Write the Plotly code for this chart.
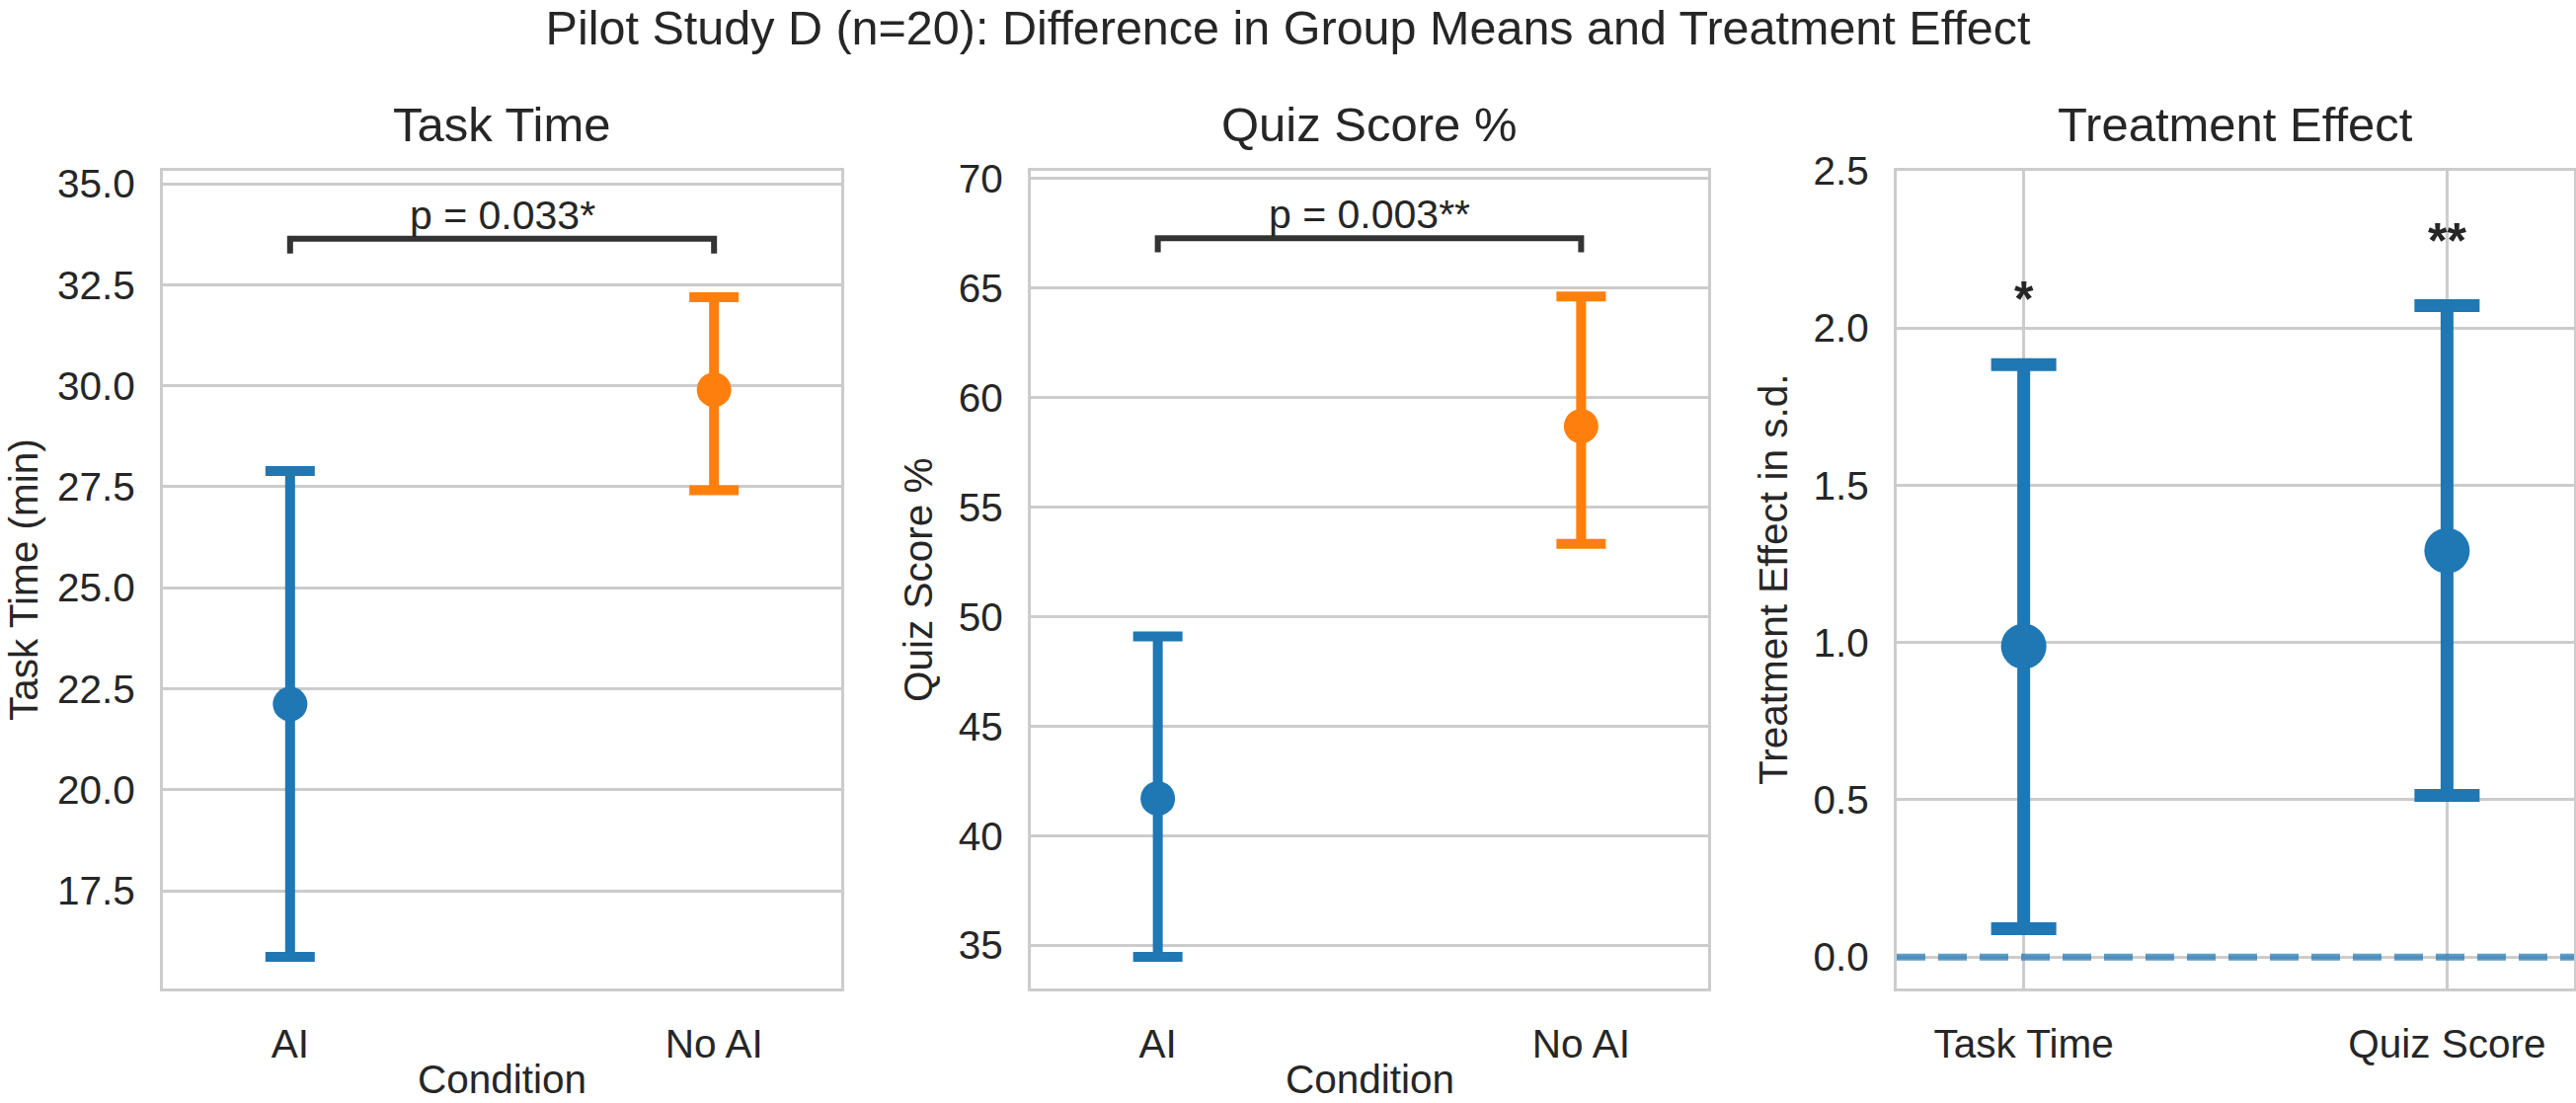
import plotly.graph_objects as go

# ---------------- data ----------------
conditions = ["AI", "No AI"]
time_mean = [22.12, 29.90]
time_lo = [15.86, 27.41]
time_hi = [27.89, 32.19]

quiz_mean = [41.70, 58.70]
quiz_lo = [34.47, 53.33]
quiz_hi = [49.10, 64.62]

effect_labels = ["Task Time", "Quiz Score"]
effect_mean = [0.988, 1.292]
effect_lo = [0.090, 0.514]
effect_hi = [1.884, 2.071]
effect_stars = ["*", "**"]

p_texts = ["p = 0.033*", "p = 0.003**"]
bracket_top = [33.64, 67.28]
bracket_tip = [33.27, 66.64]
null_effect = 0.0

time_ticks = [17.5, 20.0, 22.5, 25.0, 27.5, 30.0, 32.5, 35.0]
quiz_ticks = [35, 40, 45, 50, 55, 60, 65, 70]
effect_ticks = [0.0, 0.5, 1.0, 1.5, 2.0, 2.5]

colors = ["#1f77b4", "#ff7f0e"]
TXT = "#262626"
GRID = "#cccccc"
FONT = "Arial, Liberation Sans, sans-serif"

W, H = 2609, 1117

fig = go.Figure()

# panel domains (pixels)
px_x = [(165, 852), (1044, 1730), (1921, 2607)]
top_px, bot_px = 173, 1001
ydom = [(H - bot_px) / H, (H - top_px) / H]


def add_group(xref, yref, cats, mean, lo, hi, cols, size, thick, capw):
    for i, c in enumerate(cats):
        fig.add_trace(go.Scatter(
            x=[c], y=[mean[i]], mode="markers",
            marker=dict(color=cols[i], size=size, line=dict(width=0)),
            error_y=dict(type="data", symmetric=False,
                         array=[hi[i] - mean[i]], arrayminus=[mean[i] - lo[i]],
                         color=cols[i], thickness=thick, width=capw),
            xaxis=xref, yaxis=yref, showlegend=False, hoverinfo="skip"))


add_group("x", "y", conditions, time_mean, time_lo, time_hi, colors, 35, 10, 25)
add_group("x2", "y2", conditions, quiz_mean, quiz_lo, quiz_hi, colors, 35, 10, 25)
add_group("x3", "y3", effect_labels, effect_mean, effect_lo, effect_hi,
          [colors[0], colors[0]], 46, 13, 33)

# significance brackets
for k, (xr, yr) in enumerate([("x", "y"), ("x2", "y2")]):
    fig.add_trace(go.Scatter(
        x=[conditions[0], conditions[0], conditions[1], conditions[1]],
        y=[bracket_tip[k], bracket_top[k], bracket_top[k], bracket_tip[k]],
        mode="lines", line=dict(color="#333333", width=6),
        xaxis=xr, yaxis=yr, showlegend=False, hoverinfo="skip"))
    fig.add_annotation(x=0.5, y=bracket_top[k], xref=xr, yref=yr,
                       text=p_texts[k], showarrow=False, yanchor="bottom",
                       yshift=-1, font=dict(size=41, color=TXT, family=FONT))

# stars over treatment effects
for i, lab in enumerate(effect_labels):
    fig.add_annotation(x=lab, y=effect_hi[i], xref="x3", yref="y3",
                       text="<b>%s</b>" % effect_stars[i], showarrow=False,
                       yanchor="bottom", yshift=36,
                       font=dict(size=50, color=TXT, family=FONT))

# dashed zero line
fig.add_shape(type="line", xref="x3 domain", yref="y3", x0=0, x1=1,
              y0=null_effect, y1=null_effect,
              line=dict(color="rgba(31,119,180,0.72)", width=7, dash="29px,13px"))

axis_common = dict(showline=True, mirror=True, linecolor=GRID, linewidth=3,
                   ticks="", zeroline=False,
                   tickfont=dict(size=40.5, color=TXT, family=FONT))

yranges = [[15.08, 35.32], [33.03, 70.36], [-0.1, 2.5]]
yticks = [time_ticks, quiz_ticks, effect_ticks]
yfmt = [".1f", "d", ".1f"]
cats = [conditions, conditions, effect_labels]
for k in range(3):
    sx = "" if k == 0 else str(k + 1)
    fig.update_layout(**{
        "xaxis" + sx: dict(domain=[px_x[k][0] / W, px_x[k][1] / W],
                           anchor="y" + sx, type="category",
                           categoryorder="array", categoryarray=cats[k],
                           range=[-0.3, 1.3], showgrid=(k == 2),
                           gridcolor=GRID, gridwidth=3,
                           ticklabelstandoff=18, **axis_common),
        "yaxis" + sx: dict(domain=ydom, anchor="x" + sx, range=yranges[k],
                           tickvals=yticks[k], tickformat=yfmt[k],
                           showgrid=True, gridcolor=GRID, gridwidth=3,
                           ticklabelstandoff=17, **axis_common),
    })

# subplot titles
titles = ["Task Time", "Quiz Score %", "Treatment Effect"]
for k in range(3):
    sx = "" if k == 0 else str(k + 1)
    fig.add_annotation(x=0.5, y=1, xref="x%s domain" % sx, yref="y%s domain" % sx,
                       text=titles[k], showarrow=False, yanchor="bottom",
                       yshift=18, font=dict(size=49, color=TXT, family=FONT))

# x axis titles
for k in range(2):
    sx = "" if k == 0 else str(k + 1)
    fig.add_annotation(x=0.5, y=-(1093 - bot_px) / (bot_px - top_px),
                       xref="x%s domain" % sx, yref="y%s domain" % sx,
                       text="Condition", showarrow=False, yanchor="middle",
                       font=dict(size=40.5, color=TXT, family=FONT))

# y axis titles
ylabels = ["Task Time (min)", "Quiz Score %", "Treatment Effect in s.d."]
ylab_x = [24, 930, 1796]
for k in range(3):
    fig.add_annotation(x=ylab_x[k] / W, y=(ydom[0] + ydom[1]) / 2, xref="paper", yref="paper",
                       text=ylabels[k], textangle=-90, showarrow=False,
                       xanchor="center", yanchor="middle",
                       font=dict(size=40.5, color=TXT, family=FONT))

fig.update_layout(
    width=W, height=H,
    margin=dict(l=0, r=0, t=0, b=0, autoexpand=False),
    paper_bgcolor="white", plot_bgcolor="white",
    title=dict(text="Pilot Study D (n=20): Difference in Group Means and Treatment Effect",
               x=0.5, xanchor="center", y=1 - 28 / H, yanchor="middle", yref="container",
               font=dict(size=48.5, color=TXT, family=FONT)),
    font=dict(family=FONT, color=TXT),
)

fig.write_html("out.html")
